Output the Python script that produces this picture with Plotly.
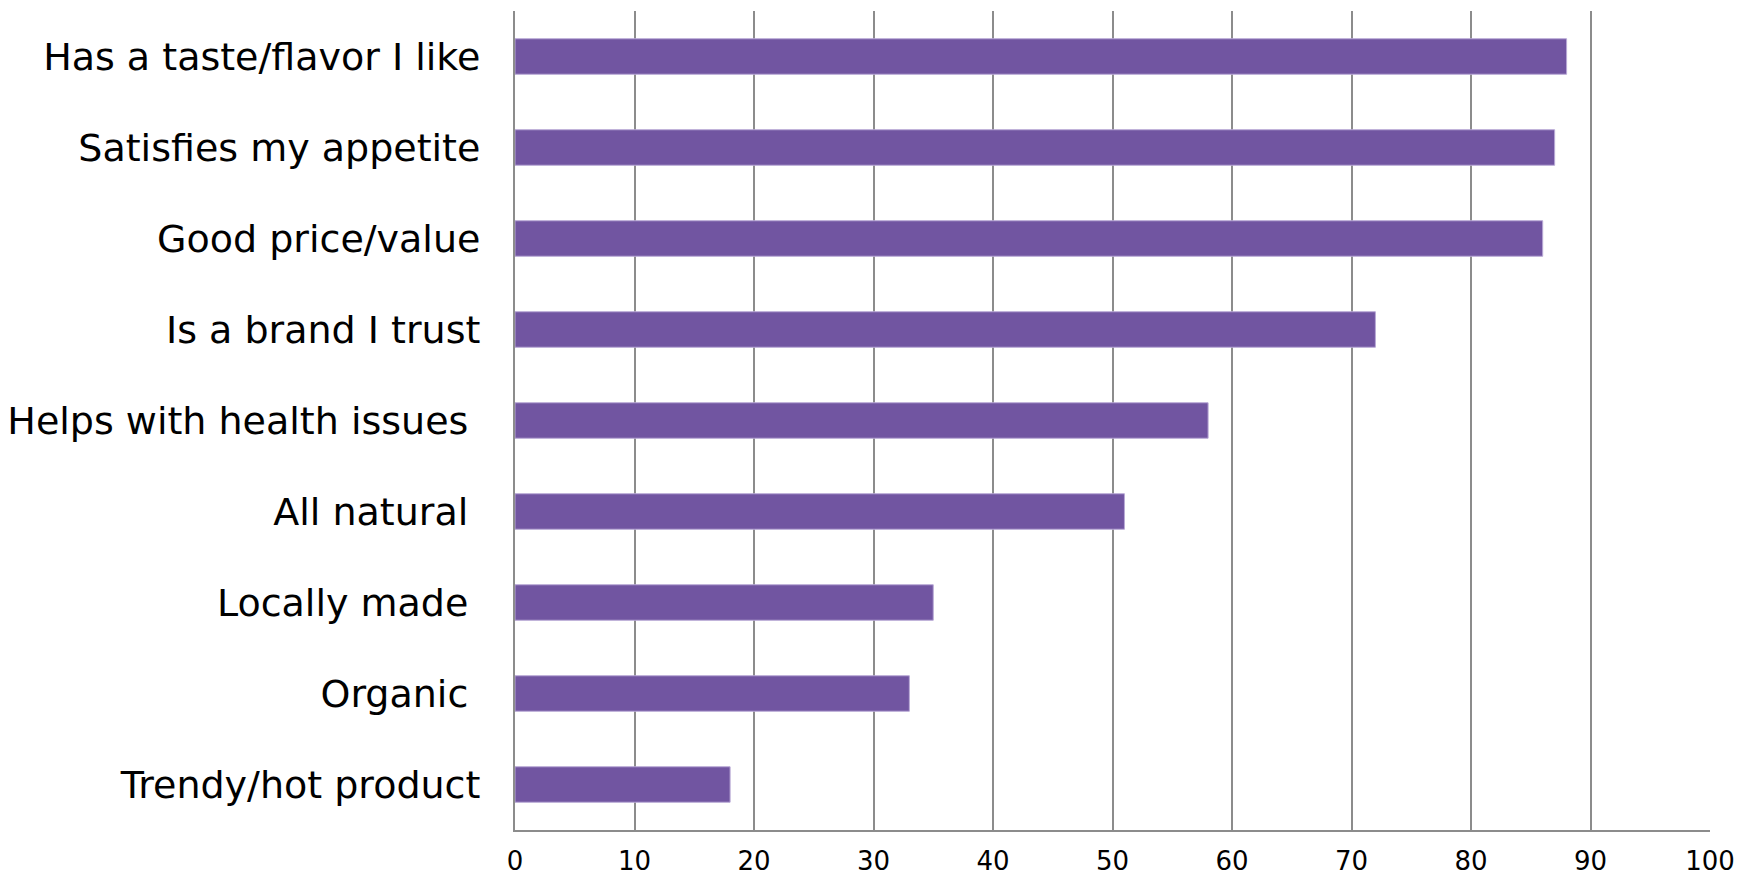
import plotly.graph_objects as go

# Purchase drivers, listed top to bottom
categories = [
    "Has a taste/flavor I like",
    "Satisfies my appetite",
    "Good price/value",
    "Is a brand I trust",
    "Helps with health issues\u00a0",
    "All natural\u00a0",
    "Locally made\u00a0",
    "Organic\u00a0",
    "Trendy/hot product",
]
values = [88, 87, 86, 72, 58, 51, 35, 33, 18]
x_ticks = [0, 10, 20, 30, 40, 50, 60, 70, 80, 90, 100]

BAR = "#7155a1"
GRID = "#8c8c8c"
FONT = "DejaVu Sans"

fig = go.Figure(
    go.Bar(
        x=values,
        y=categories,
        orientation="h",
        marker=dict(color=BAR, line=dict(color="#b9a9d6", width=1)),
        width=0.39,
        hoverinfo="skip",
    )
)

fig.update_layout(
    width=1749,
    height=879,
    margin=dict(l=515, r=39, t=11, b=49),
    paper_bgcolor="white",
    plot_bgcolor="white",
    showlegend=False,
    font=dict(family=FONT, color="black"),
)

fig.update_xaxes(
    range=[0, 100],
    tickvals=x_ticks,
    ticktext=[str(v) for v in x_ticks],
    showgrid=True,
    gridcolor=GRID,
    gridwidth=2,
    zeroline=False,
    showline=True,
    linecolor=GRID,
    linewidth=2,
    ticks="",
    tickfont=dict(size=26, family=FONT),
    ticklabelstandoff=7,
    automargin=False,
)

fig.update_yaxes(
    categoryorder="array",
    categoryarray=categories[::-1],
    range=[-0.5, len(categories) - 0.5],
    showgrid=False,
    zeroline=False,
    showline=True,
    linecolor=GRID,
    linewidth=2,
    ticks="",
    tickfont=dict(size=38, family=FONT),
    ticklabelstandoff=25,
    automargin=False,
)

fig.write_html("out.html")
